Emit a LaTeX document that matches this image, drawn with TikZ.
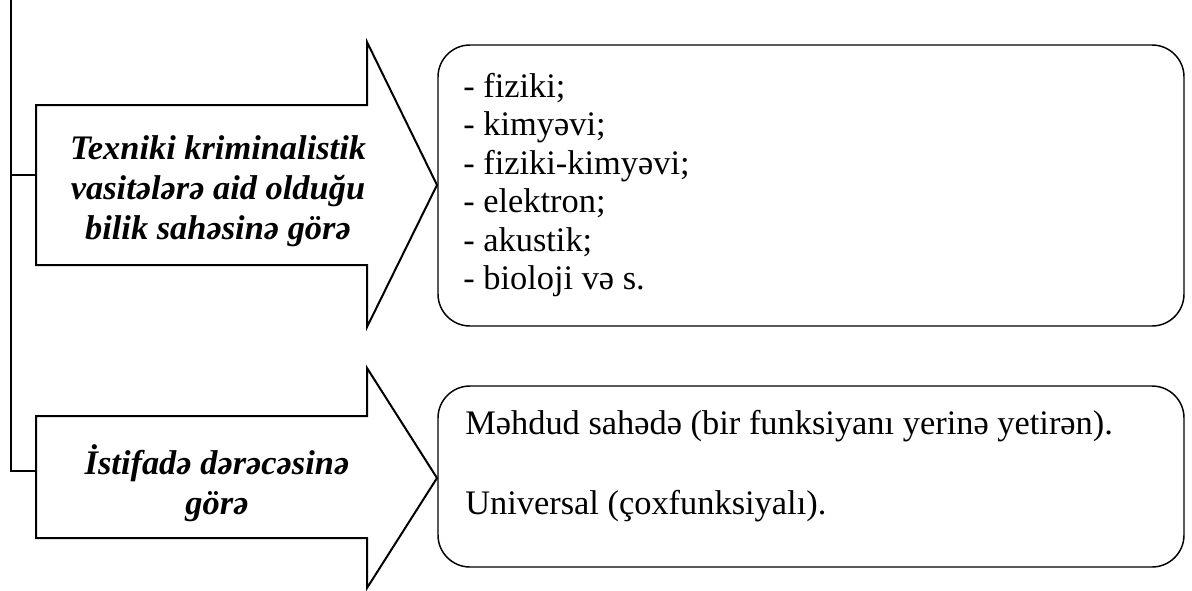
\documentclass[tikz,border=0pt]{standalone}
\usepackage{fontspec}
\setmainfont{Liberation Serif}
\begin{document}
\begin{tikzpicture}[x=0.75pt,y=-0.75pt,
  shapeline/.style={line width=1.5pt, line join=miter},
  linkline/.style={line width=1.5pt},
  boxstyle/.style={draw, line width=1.1pt, rounded corners=24pt, minimum width=559.5pt, inner sep=0pt},
  arrowtext/.style={font=\fontsize{25.8pt}{30pt}\selectfont\bfseries\itshape, align=center, inner sep=0pt},
  boxtext/.style={font=\fontsize{25.8pt}{28.9pt}\selectfont, align=left, inner sep=0pt, anchor=west}]
\useasboundingbox (0,0) rectangle (1192,590);
% arrow shapes
\draw[shapeline] (36,105) -- (367,105) -- (367,42) -- (437,185) -- (367,327) -- (367,265) -- (36,265) -- cycle;
\draw[shapeline] (36,416) -- (367,416) -- (367,368) -- (437,478) -- (367,588) -- (367,538) -- (36,538) -- cycle;
% arrow texts
\node[arrowtext] (t1) at (218,191) {Texniki kriminalistik\\vasitələrə aid olduğu\\bilik sahəsinə görə};
\node[arrowtext] (t2) at (217,483) {İstifadə dərəcəsinə\\görə};
% boxes
\node[boxstyle, minimum height=210.75pt] (b1) at (811,185.5) {};
\node[boxstyle, minimum height=135.75pt] (b2) at (811,476.5) {};
\node[boxtext] (l1) at (463,185) {- fiziki;\\- kimyəvi;\\- fiziki-kimyəvi;\\- elektron;\\- akustik;\\- bioloji və s.};
\node[boxtext] (l2) at (465,466) {Məhdud sahədə (bir funksiyanı yerinə yetirən).\\[31pt]Universal (çoxfunksiyalı).};
% connectors
\coordinate (top) at (11,0);
\coordinate (j1) at (11,175);
\coordinate (a1) at (36,175);
\coordinate (a2) at (36,471);
\draw[linkline] (top) |- (a2);
\draw[linkline] (j1) -- (a1);
\end{tikzpicture}
\end{document}
